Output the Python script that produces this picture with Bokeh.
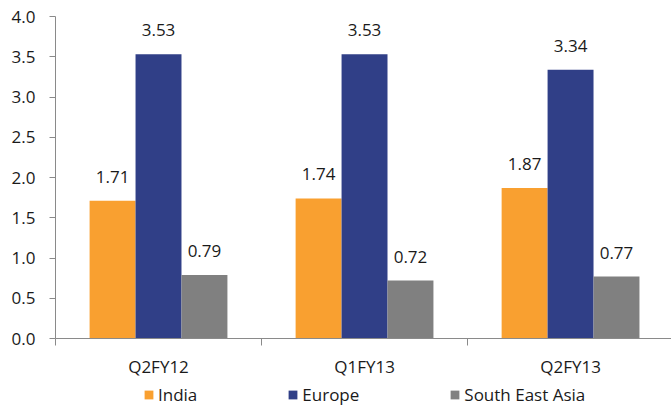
from bokeh.plotting import figure
from bokeh.layouts import column
from bokeh.models import (Range1d, FixedTicker, ColumnDataSource, Legend, LegendItem,
                          CustomJSTickFormatter)
from bokeh.transform import dodge
from bokeh.core.properties import value
from bokeh.embed import file_html
from bokeh.resources import INLINE

# Quarterly values by region
quarters = ["Q2FY12", "Q1FY13", "Q2FY13"]
india = [1.71, 1.74, 1.87]
europe = [3.53, 3.53, 3.34]
south_east_asia = [0.79, 0.72, 0.77]

series_names = ["India", "Europe", "South East Asia"]
series_colors = ["#F9A030", "#303F87", "#808080"]

FONT = "Open Sans"
FSIZE = "17px"
TEXT = "#1a1a1a"
AXIS = "#8a8a8a"

centers = [i + 0.5 for i in range(len(quarters))]
src = ColumnDataSource(dict(
    x=centers,
    india=india, europe=europe, sea=south_east_asia,
    india_lbl=[f"{v:.2f}" for v in india],
    europe_lbl=[f"{v:.2f}" for v in europe],
    sea_lbl=[f"{v:.2f}" for v in south_east_asia],
))

p = figure(width=671, height=380, output_backend="svg", toolbar_location=None,
           x_range=Range1d(0, 2.99), y_range=Range1d(0, 4.0),
           min_border_left=55, min_border_right=0, min_border_top=16,
           min_border_bottom=40)
p.outline_line_color = None
p.xgrid.grid_line_color = None
p.ygrid.grid_line_color = None
p.background_fill_color = "white"
p.border_fill_color = "white"

bar_w = 0.223
cols = [("india", -bar_w), ("europe", 0.0), ("sea", bar_w)]
for (col, off), color in zip(cols, series_colors):
    p.vbar(x=dodge("x", off), top=col, width=bar_w, bottom=0, source=src,
           fill_color=color, line_color=None)
    p.text(x=dodge("x", off), y=col, text=col + "_lbl", source=src,
           text_align="center", text_baseline="middle", y_offset=-24,
           text_font=value(FONT), text_font_size=FSIZE, text_color=TEXT)

# y axis
p.yaxis.ticker = FixedTicker(ticks=[i * 0.5 for i in range(9)])
p.yaxis.formatter = CustomJSTickFormatter(code="return tick.toFixed(1);")
p.yaxis.axis_line_color = AXIS
p.yaxis.major_tick_line_color = AXIS
p.yaxis.major_tick_out = 6
p.yaxis.major_tick_in = 0
p.yaxis.minor_tick_line_color = None
p.yaxis.major_label_standoff = 14
p.yaxis.major_label_text_font = FONT
p.yaxis.major_label_text_font_size = FSIZE
p.yaxis.major_label_text_color = TEXT

# x axis: labels at category centres, ticks at category boundaries
p.xaxis.ticker = FixedTicker(ticks=centers, minor_ticks=[0, 1, 2, 3])
p.xaxis.major_label_overrides = {c: q for c, q in zip(centers, quarters)}
p.xaxis.axis_line_color = AXIS
p.xaxis.major_tick_line_color = None
p.xaxis.minor_tick_line_color = AXIS
p.xaxis.minor_tick_out = 7
p.xaxis.minor_tick_in = 0
p.xaxis.major_label_standoff = 9
p.xaxis.major_label_text_font = FONT
p.xaxis.major_label_text_font_size = FSIZE
p.xaxis.major_label_text_color = TEXT

# legend strip underneath the chart; its y range sits above the data so the
# bars themselves stay out of view and only the legend swatches show
leg = figure(width=671, height=26, output_backend="svg", toolbar_location=None,
             x_range=p.x_range, y_range=Range1d(10, 11),
             min_border=0, min_border_left=55, outline_line_color=None)
leg.axis.visible = False
leg.grid.visible = False
swatches = [leg.vbar(x=dodge("x", off), top=col, width=bar_w, bottom=0, source=src,
                     fill_color=c, line_color=None)
            for (col, off), c in zip(cols, series_colors)]
legend = Legend(
    items=[LegendItem(label=n, renderers=[r]) for n, r in zip(series_names, swatches)],
    orientation="horizontal", location=(88, 0),
    glyph_width=11, glyph_height=11, label_standoff=4, spacing=90,
    padding=0, margin=0, border_line_color=None, background_fill_alpha=0,
    label_text_font=FONT, label_text_font_size=FSIZE, label_text_color=TEXT,
    label_height=20,
)
leg.add_layout(legend, "center")

open("out.html", "w").write(file_html(column(p, leg, spacing=0), INLINE))
